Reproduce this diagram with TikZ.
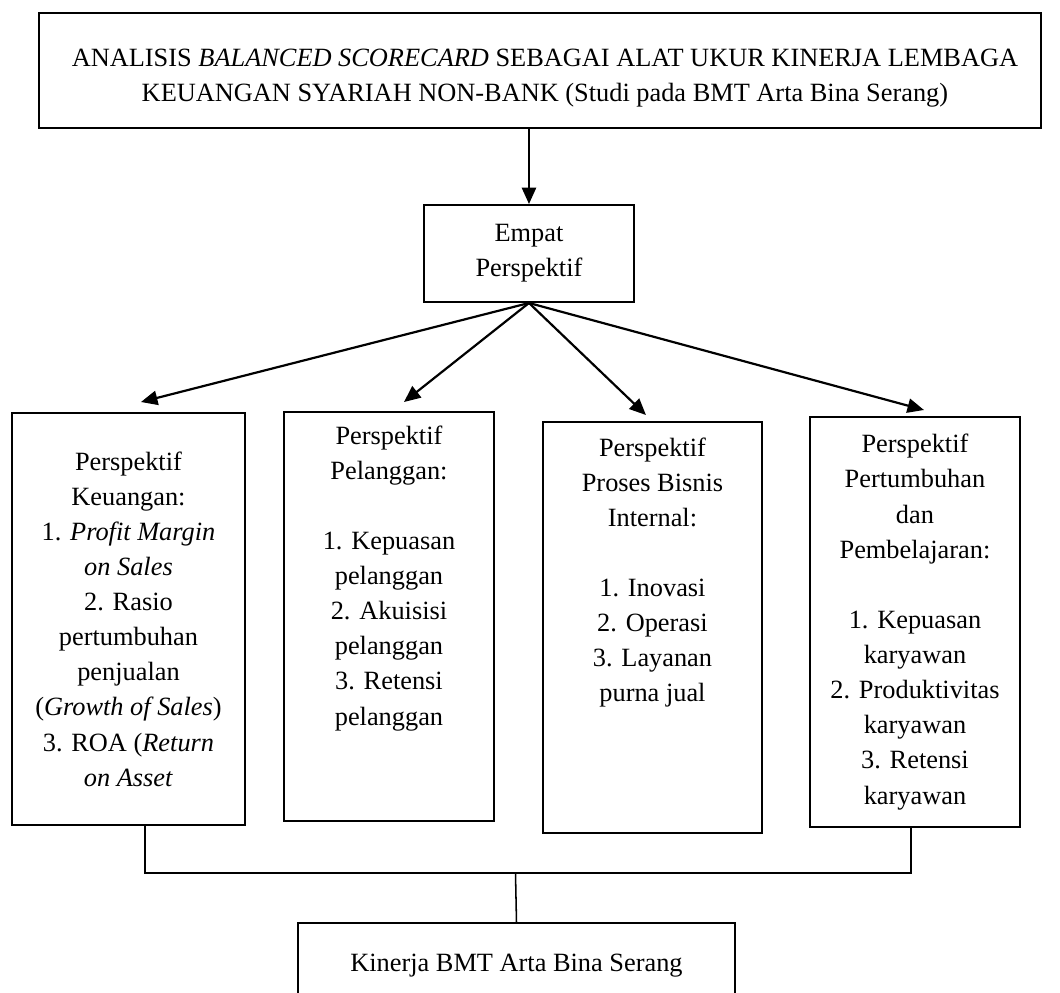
\documentclass[tikz,border=0pt]{standalone}
\usepackage{fontspec}
\setmainfont{Liberation Serif}
\usetikzlibrary{arrows.meta,calc}
\newcommand\pxu{0.016cm}
\begin{document}
\begin{tikzpicture}[x=0.016cm,y=-0.016cm,
  box/.style={draw, line width=0.9pt, inner sep=0pt, anchor=north west, align=center, font=\fontsize{12}{16}\selectfont},
  txt/.style={inner sep=0pt, anchor=north, align=center, font=\fontsize{12}{16}\selectfont},
  arr/.style={line width=1pt, -{Triangle[length=7.5pt,width=6.5pt]}},
  conn/.style={line width=0.7pt}]
\useasboundingbox (0,0) rectangle (1060,993);
\clip (0,0) rectangle (1060,993);
\node[box, minimum width=1002*\pxu, minimum height=115*\pxu] (title) at (38,12) {};
\node[txt, anchor=center] (titlet) at ($(title.center)+(5,8)$)
  {ANALISIS \textit{BALANCED SCORECARD} SEBAGAI ALAT UKUR KINERJA LEMBAGA\\KEUANGAN SYARIAH NON-BANK (Studi pada BMT Arta Bina Serang)};
\node[box, minimum width=210*\pxu, minimum height=97*\pxu] (emp) at (423,204) {Empat\\Perspektif};
\node[box, minimum width=233*\pxu, minimum height=412*\pxu] (b1) at (11,412)
  {Perspektif\\Keuangan:\\1. \textit{Profit Margin}\\\textit{on Sales}\\2. Rasio\\pertumbuhan\\penjualan\\(\textit{Growth of Sales})\\3. ROA (\textit{Return}\\\textit{on Asset}};
\node[box, minimum width=210*\pxu, minimum height=409*\pxu] (b2) at (283,411) {};
\node[txt] (b2t) at ($(b2.north)+(0,14)$)
  {Perspektif\\Pelanggan:\\[16pt]1. Kepuasan\\pelanggan\\2. Akuisisi\\pelanggan\\3. Retensi\\pelanggan};
\node[box, minimum width=219*\pxu, minimum height=411*\pxu] (b3) at (542,421) {};
\node[txt] (b3t) at ($(b3.north)+(0,16)$)
  {Perspektif\\Proses Bisnis\\Internal:\\[16pt]1. Inovasi\\2. Operasi\\3. Layanan\\purna jual};
\node[box, minimum width=210*\pxu, minimum height=410*\pxu] (b4) at (809,416)
  {Perspektif\\Pertumbuhan\\dan\\Pembelajaran:\\[16pt]1. Kepuasan\\karyawan\\2. Produktivitas\\karyawan\\3. Retensi\\karyawan};
\node[box, minimum width=437*\pxu, minimum height=86*\pxu] (kin) at (297,922) {Kinerja BMT Arta Bina Serang};

\draw[arr] (emp.north |- title.south) -- (emp.north);
\draw[arr] (emp.south) -- ($(b1.north)+(12.5,-10)$);
\draw[arr] (emp.south) -- ($(b2.north)+(15,-9)$);
\draw[arr] (emp.south) -- ($(b3.north)+(-6.5,-6)$);
\draw[arr] (emp.south) -- ($(b4.north)+(9,-6)$);

\coordinate (j1) at (145,873);
\coordinate (j4) at (911,873);
\coordinate (jm) at (515.5,873);
\draw[conn] (j1 |- b1.south) -- (j1) -- (j4) -- (j4 |- b4.south);
\draw[conn] (jm) -- (kin.north);
\end{tikzpicture}
\end{document}
